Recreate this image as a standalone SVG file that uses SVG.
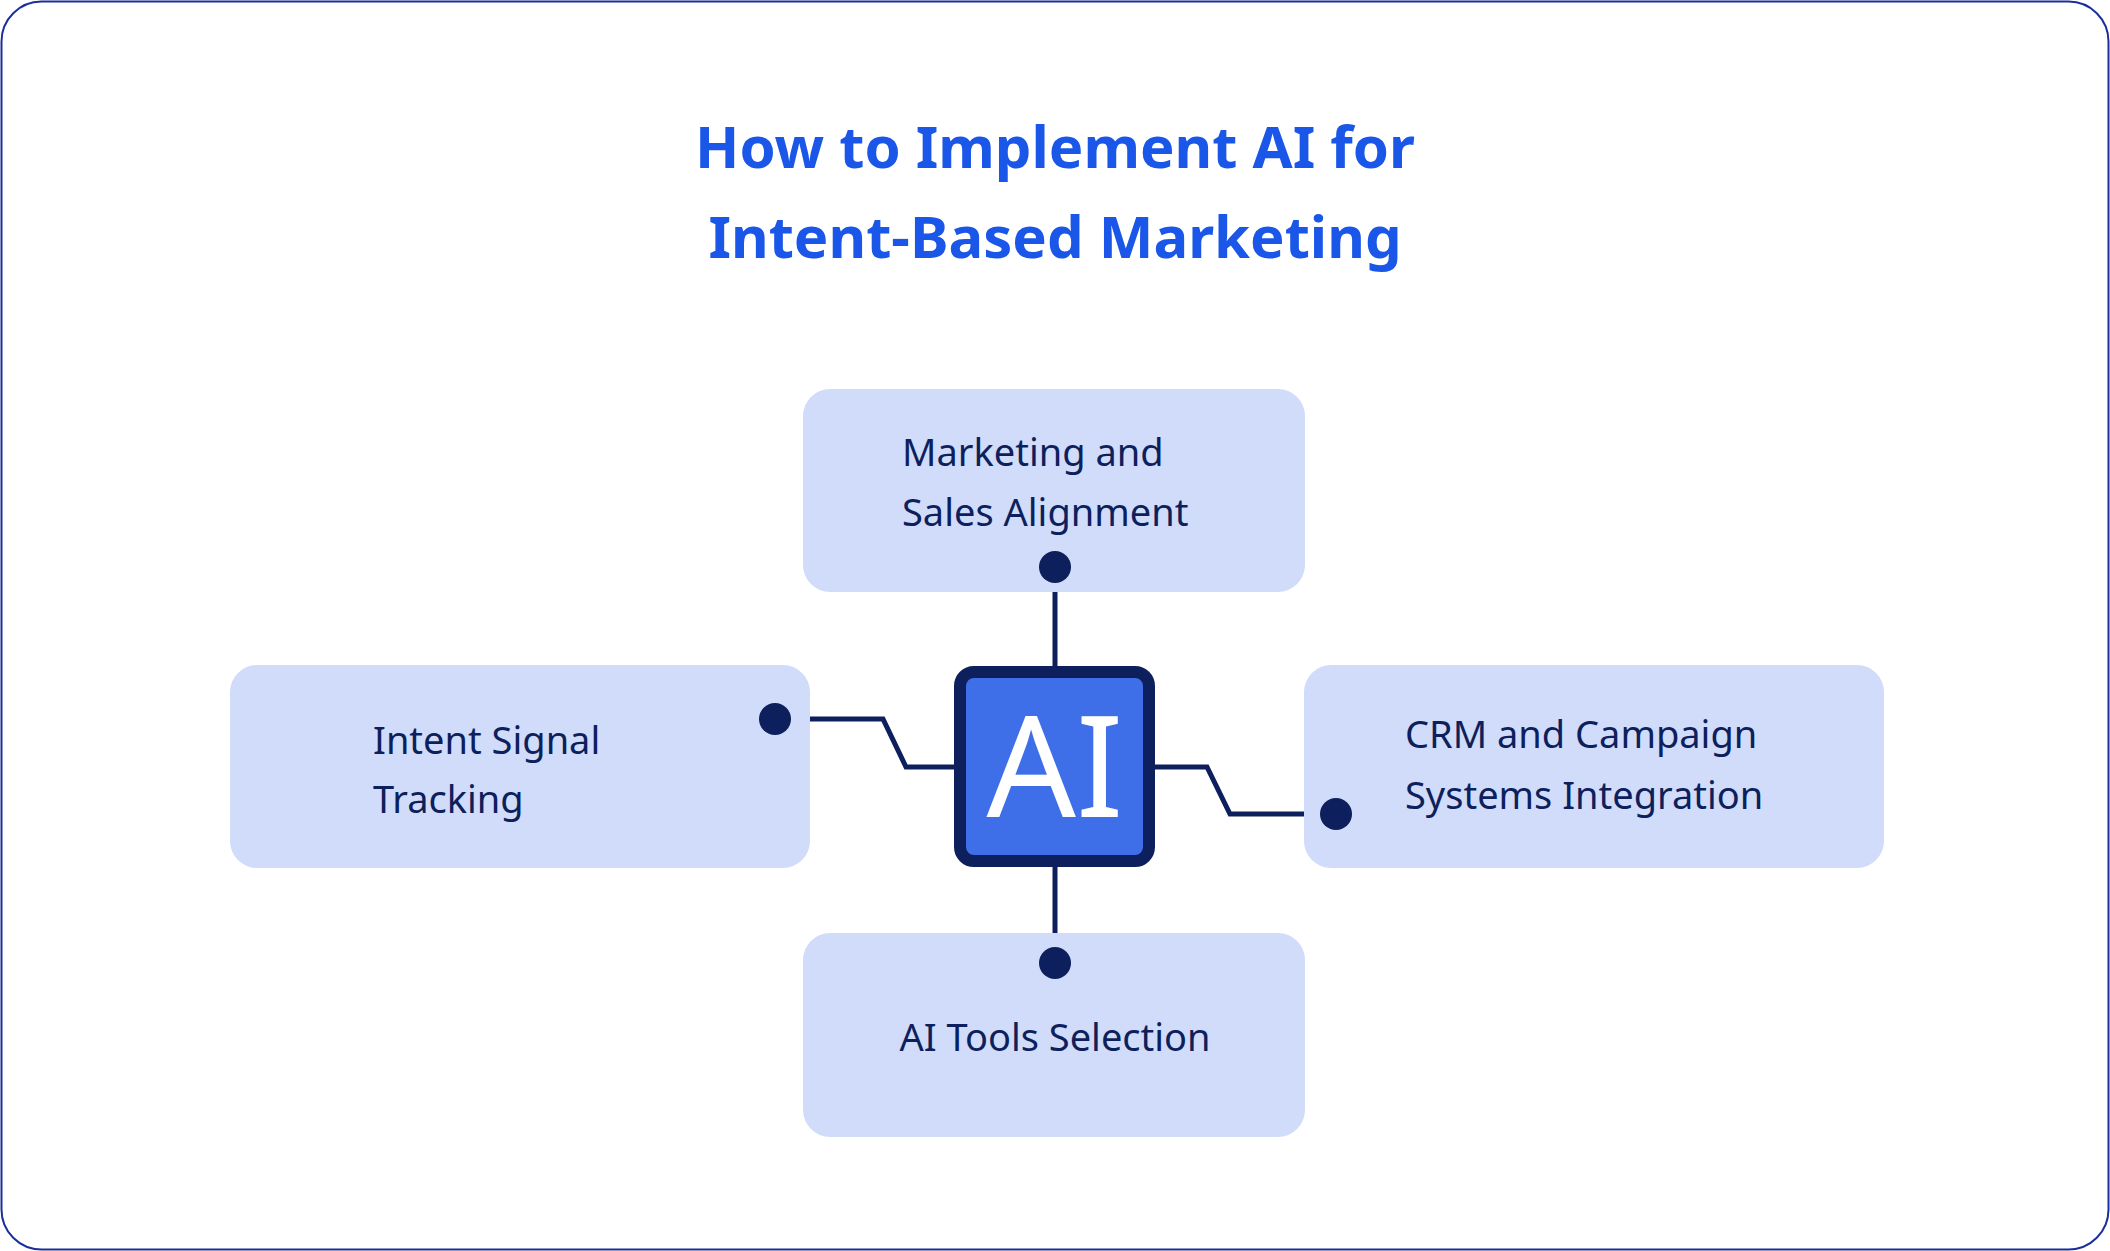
<svg xmlns="http://www.w3.org/2000/svg" width="2110" height="1251" viewBox="0 0 2110 1251">
<style>
.box{fill:#d0dcf9}
.lbl{font-family:"Noto Sans","Liberation Sans",sans-serif;font-size:38px;fill:#0d1f5c}
.ttl{font-family:"Noto Sans","Liberation Sans",sans-serif;font-size:58px;font-weight:bold;fill:#1a56e8;text-anchor:middle}
.ln{fill:none;stroke:#0d1f5c;stroke-width:5;stroke-linejoin:miter}
.dot{fill:#0d1f5c}
</style>
<rect x="1.5" y="1.5" width="2107" height="1248" rx="40" fill="#fff" stroke="#1a2f9c" stroke-width="2"/>
<g id="title">
<text class="ttl" x="1055" y="168">How to Implement AI for</text>
<text class="ttl" x="1055" y="258">Intent-Based Marketing</text>
</g>
<g id="connectors">
<path class="ln" d="M1055,567 V666"/>
<path class="ln" d="M775,719 H883 L906,767 H954"/>
<path class="ln" d="M1155,767 H1207 L1230,814 H1336"/>
<path class="ln" d="M1055,867 V963"/>
</g>
<g id="node-top">
<rect class="box" x="803" y="389" width="502" height="203" rx="27"/>
<text class="lbl" x="902" y="466">Marketing and</text>
<text class="lbl" x="902" y="526">Sales Alignment</text>
</g>
<g id="node-left">
<rect class="box" x="230" y="665" width="580" height="203" rx="27"/>
<text class="lbl" x="373" y="754">Intent Signal</text>
<text class="lbl" x="373" y="813">Tracking</text>
</g>
<g id="node-right">
<rect class="box" x="1304" y="665" width="580" height="203" rx="27"/>
<text class="lbl" x="1405" y="748">CRM and Campaign</text>
<text class="lbl" x="1405" y="809">Systems Integration</text>
</g>
<g id="node-bottom">
<rect class="box" x="803" y="933" width="502" height="204" rx="27"/>
<text class="lbl" x="1055" y="1051" text-anchor="middle">AI Tools Selection</text>
</g>
<g id="dots">
<circle class="dot" cx="1055" cy="567" r="16"/>
<circle class="dot" cx="775" cy="719" r="16"/>
<circle class="dot" cx="1336" cy="814" r="16"/>
<circle class="dot" cx="1055" cy="963" r="16"/>
</g>
<g id="node-ai">
<rect x="960" y="672" width="189" height="189" rx="14" fill="#3f6fe8" stroke="#0d1f5c" stroke-width="12"/>
<text x="1055" y="817" text-anchor="middle" font-family="Noto Sans,Liberation Sans,sans-serif" font-size="140" fill="#fff">AI</text>
</g>
</svg>
